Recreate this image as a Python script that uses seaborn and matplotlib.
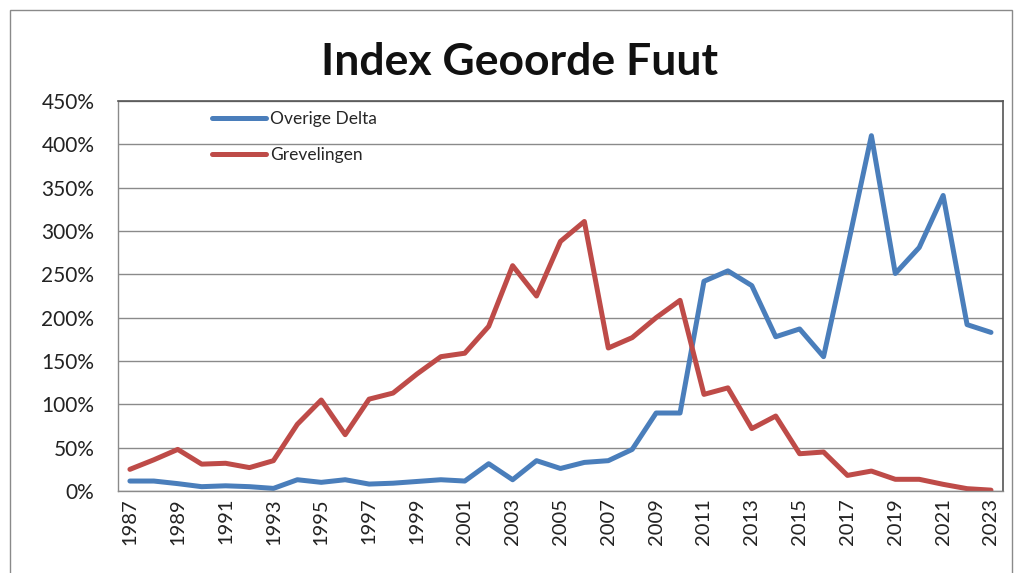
import numpy as np
import pandas as pd
import matplotlib
matplotlib.use("Agg")
import matplotlib.pyplot as plt
import matplotlib.patches as mpatches
from matplotlib.ticker import FuncFormatter, MultipleLocator
import seaborn as sns

years = list(range(1987, 2024))
overige_delta = [11.5, 11.5, 8.5, 5, 6, 5, 3, 13, 10, 13, 8, 9, 11, 13, 11.5, 31.5, 13, 35,
                 26, 33, 35, 48, 90, 90, 242, 254, 237, 178, 187, 155, 281, 410, 251, 281,
                 341, 192, 183]
grevelingen = [25, 36, 48, 31, 32, 27, 35, 77, 105, 65, 106, 113, 135, 155, 159, 190, 260, 225,
               288, 311, 165, 177, 200, 220, 111.5, 119, 72, 86.5, 43, 45, 18, 23, 13.5, 13.5,
               7.7, 2.7, 1]
series_names = ["Overige Delta", "Grevelingen"]
title = "Index Geoorde Fuut"

df = pd.DataFrame({
    "year": years * 2,
    "value": overige_delta + grevelingen,
    "series": [series_names[0]] * len(years) + [series_names[1]] * len(years),
})

sns.set_style("white")
plt.rcParams["font.family"] = ["Lato", "DejaVu Sans"]

fig = plt.figure(figsize=(10.23, 5.73), dpi=100)
ax = fig.add_axes([0.1153, 0.1431, 0.9804 - 0.1153, 0.8237 - 0.1431])

palette = {"Overige Delta": "#4A7EBB", "Grevelingen": "#BE4B48"}
sns.lineplot(data=df, x="year", y="value", hue="series", palette=palette,
             linewidth=3.6, ax=ax, legend=True)

ax.set_xlim(1986.5, 2023.5)
ax.set_ylim(0, 450)
ax.yaxis.set_major_locator(MultipleLocator(50))
ax.yaxis.set_major_formatter(FuncFormatter(lambda v, p: f"{int(v)}%"))
ax.grid(axis="y", color="#8a8a8a", linewidth=1.0)
ax.set_axisbelow(True)

ax.set_xticks(years[::2])
ax.set_xticklabels([str(y) for y in years[::2]], rotation=90)
ax.set_xticks([y - 0.5 for y in years] + [years[-1] + 0.5], minor=True)
ax.tick_params(axis="x", which="major", length=0, pad=5, labelsize=14.5, colors="#222222")
ax.tick_params(axis="x", which="minor", length=6, width=1, color="#8a8a8a", direction="out")
ax.tick_params(axis="y", which="major", length=6, width=1, color="#8a8a8a", direction="out",
               labelsize=15, pad=11, labelcolor="#222222")
ax.set_xlabel("")
ax.set_ylabel("")

for s in ["left", "bottom"]:
    ax.spines[s].set_color("#8a8a8a")
    ax.spines[s].set_linewidth(1.0)
for s in ["top", "right"]:
    ax.spines[s].set_color("#555555")
    ax.spines[s].set_linewidth(1.2)

leg = ax.legend(loc="upper left", bbox_to_anchor=(0.095, 1.0), frameon=False,
                fontsize=12.5, handlelength=3.1, handletextpad=0.2, labelspacing=1.15,
                borderaxespad=0.2)
for line in leg.get_lines():
    line.set_linewidth(3.6)

fig.text(0.508, 0.892, title, ha="center", va="center", fontsize=32, fontweight="bold",
         color="#111111")

border = mpatches.Rectangle((10 / 1023, -0.05), 1002 / 1023, 1 - 10 / 573 + 0.05,
                            transform=fig.transFigure, fill=False, edgecolor="#8a8a8a",
                            linewidth=1.0)
fig.patches.append(border)

fig.savefig("out.png", dpi=100)
